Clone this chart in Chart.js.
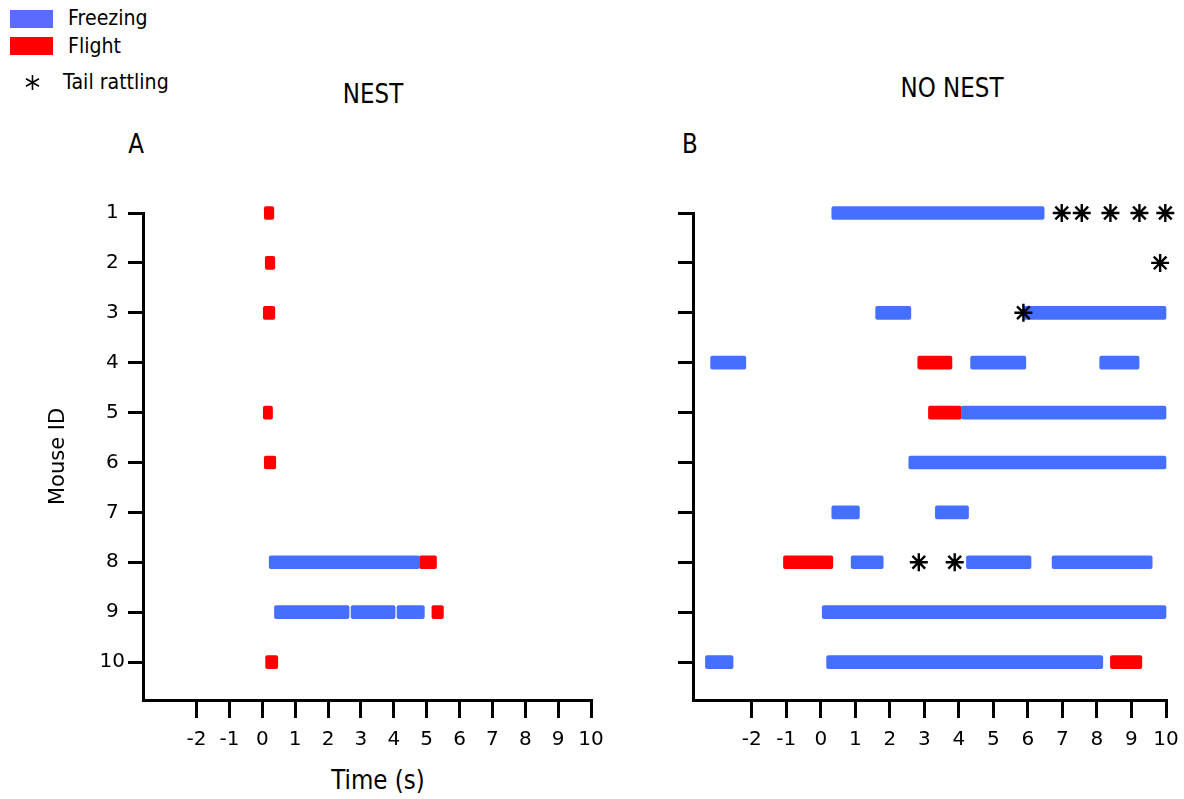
<!DOCTYPE html>
<html><head><meta charset="utf-8">
<script src="https://cdn.jsdelivr.net/npm/chart.js@4/dist/chart.umd.min.js"></script>
<style>
html,body{margin:0;padding:0;background:#fff;width:1184px;height:799px;overflow:hidden;position:relative;font-family:'DejaVu Sans',sans-serif;color:#000}
canvas{position:absolute;top:0}
#cA{left:0}
#cB{left:620px}
.t{position:absolute;white-space:nowrap;transform:translate(-50%,-50%) scaleY(1.18);font-size:23px;line-height:1}
.lg{position:absolute;white-space:nowrap;font-size:19px;line-height:1;transform:translateY(-50%) scaleY(1.15)}
.sw{position:absolute;left:10px;width:43px;height:18px}
</style></head><body>
<div class="sw" style="top:10px;background:#5b6bff"></div>
<div class="lg" style="left:68px;top:18px">Freezing</div>
<div class="sw" style="top:37px;background:#ff0000"></div>
<div class="lg" style="left:68px;top:46px">Flight</div>
<svg style="position:absolute;left:24px;top:74px" width="17" height="17" viewBox="-8.5 -8.5 17 17">
 <g stroke="#000" stroke-width="1.6"><line x1="0" y1="-7.5" x2="0" y2="7.5"/><line x1="-6.5" y1="-3.75" x2="6.5" y2="3.75"/><line x1="-6.5" y1="3.75" x2="6.5" y2="-3.75"/></g>
</svg>
<div class="lg" style="left:63px;top:82px">Tail rattling</div>
<div class="t" style="left:373px;top:94px">NEST</div>
<div class="t" style="left:952px;top:88px">NO NEST</div>
<div class="t" style="left:136px;top:144px">A</div>
<div class="t" style="left:690px;top:144px">B</div>
<div class="t" style="left:378px;top:780px">Time (s)</div>
<canvas id="cA" width="620" height="799"></canvas>
<canvas id="cB" width="564" height="799"></canvas>
<script>
// Mouse IDs (rows) and tick labels
const mouseIds = [1, 2, 3, 4, 5, 6, 7, 8, 9, 10];
const xTicks = [-2, -1, 0, 1, 2, 3, 4, 5, 6, 7, 8, 9, 10];
const xTickLabels = ['-2', '-1', '0', '1', '2', '3', '4', '5', '6', '7', '8', '9', '10'];
const yTickLabels = ['1', '2', '3', '4', '5', '6', '7', '8', '9', '10'];

// Panel A: NEST — [mouse, start (s), end (s)]
const nestFreezing = [[8, 0.21, 4.78], [9, 0.37, 2.64], [9, 2.70, 4.04], [9, 4.10, 4.93]];
const nestFlight = [[1, 0.06, 0.35], [2, 0.09, 0.38], [3, 0.03, 0.38], [5, 0.03, 0.31], [6, 0.06, 0.41], [8, 4.78, 5.30], [9, 5.16, 5.51], [10, 0.10, 0.47]];
const nestRattling = []; // [mouse, time (s)]

// Panel B: NO NEST
const noNestFreezing = [[1, 0.32, 6.47], [3, 1.59, 2.61], [3, 5.87, 10], [4, -3.19, -2.17], [4, 4.34, 5.94], [4, 8.08, 9.22], [5, 4.07, 10], [6, 2.55, 10], [7, 0.32, 1.12], [7, 3.32, 4.28], [8, 0.88, 1.81], [8, 4.22, 6.09], [8, 6.70, 9.60], [9, 0, 10], [10, -3.34, -2.54], [10, 0.17, 8.17]];
const noNestFlight = [[4, 2.81, 3.80], [5, 3.12, 4.07], [8, -1.08, 0.35], [10, 8.39, 9.30]];
const noNestRattling = [[1, 6.98], [1, 7.56], [1, 8.39], [1, 9.23], [1, 9.98], [2, 9.83], [3, 5.87], [8, 2.84], [8, 3.88]];

const FONT = 'DejaVu Sans';
const BLUE = '#4570ff', RED = '#ff0000';

function barDataset(label, list, color) {
  return {
    type: 'bar', label, indexAxis: 'y',
    data: list.map(d => ({ x: [d[1], d[2]], y: d[0] })),
    backgroundColor: color, borderWidth: 0, borderRadius: 2, borderSkipped: false,
    barThickness: 13, grouped: false, clip: false, order: 2
  };
}
function starDataset(list) {
  return {
    type: 'scatter', label: 'Tail rattling',
    data: list.map(d => ({ x: d[1], y: d[0] })),
    pointStyle: 'star', pointRadius: 9, pointHoverRadius: 9, pointBorderWidth: 2.4,
    borderColor: '#000', backgroundColor: '#000', showLine: false, clip: false, order: 0
  };
}
function zeroPad(s) { s.paddingLeft = 0; s.paddingRight = 0; s.paddingTop = 0; s.paddingBottom = 0; }

function makeChart(id, freezing, flight, rattling, xMin, yWidth, rightPad, showY) {
  new Chart(document.getElementById(id), {
    type: 'bar',
    data: { datasets: [barDataset('Freezing', freezing, BLUE), barDataset('Flight', flight, RED), starDataset(rattling)] },
    options: {
      indexAxis: 'y',
      responsive: false, animation: false, events: [],
      layout: { padding: { top: 213, right: rightPad, left: 0, bottom: 0 } },
      plugins: { legend: { display: false }, tooltip: { enabled: false } },
      scales: {
        x: {
          type: 'linear', position: 'bottom', min: xMin, max: 10, offset: false, beginAtZero: false,
          afterBuildTicks: s => { s.ticks = xTicks.map(v => ({ value: v })); },
          afterFit: s => { s.height = 99; zeroPad(s); },
          border: { display: true, color: '#000', width: 3 },
          grid: { display: true, offset: false, drawOnChartArea: false, drawTicks: true, tickLength: 18, color: '#000', lineWidth: 3 },
          ticks: { color: '#000', font: { family: FONT, size: 20 }, padding: 10, maxRotation: 0, autoSkip: false,
                   callback: (v, i) => xTickLabels[i] }
        },
        y: {
          type: 'linear', position: 'left', reverse: true, min: mouseIds[0], max: 10.76, offset: false, beginAtZero: false,
          afterBuildTicks: s => { s.ticks = mouseIds.map(v => ({ value: v })); },
          afterFit: s => { s.width = yWidth; zeroPad(s); },
          border: { display: true, color: '#000', width: 3 },
          grid: { display: true, offset: false, drawOnChartArea: false, drawTicks: true, tickLength: 15, color: '#000', lineWidth: 3 },
          ticks: { display: showY, color: '#000', font: { family: FONT, size: 20 }, padding: 3, crossAlign: 'center', autoSkip: false,
                   callback: (v, i) => yTickLabels[i] },
          title: { display: showY, text: 'Mouse ID', color: '#000', font: { family: FONT, size: 21 }, padding: { top: 46, bottom: 0 } }
        }
      }
    }
  });
}

makeChart('cA', nestFreezing, nestFlight, nestRattling, -3.63, 143, 29, true);
makeChart('cB', noNestFreezing, noNestFlight, noNestRattling, -3.70, 73, 18, false);
</script>
</body></html>
